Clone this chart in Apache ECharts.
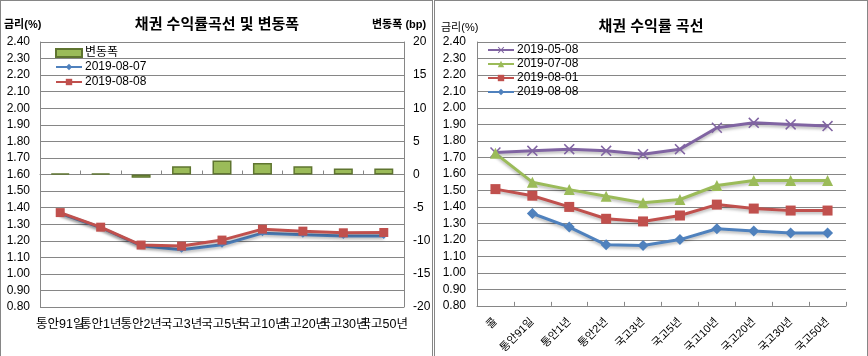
<!DOCTYPE html>
<html><head><meta charset="utf-8">
<script src="https://cdn.jsdelivr.net/npm/echarts@6/dist/echarts.min.js"></script>
<style>
html,body{margin:0;padding:0;background:#fff;width:868px;height:356px;overflow:hidden;}
#b1,#b2{position:absolute;top:0;height:380px;border:1px solid #868686;box-sizing:border-box;}
#b1{left:0;width:433px;}
#b2{left:434px;width:434px;}
#c1,#c2{position:absolute;top:0;height:356px;width:434px;}
#c1{left:0}#c2{left:434px}
</style></head><body>
<div id="b1"></div><div id="b2"></div><div id="c1"></div><div id="c2"></div>
<script>
// ---- data ----
const leftCategories = ['통안91일','통안1년','통안2년','국고3년','국고5년','국고10년','국고20년','국고30년','국고50년'];
const leftChangeBp   = [0, 0, -0.5, 1.25, 2.1, 1.75, 1.25, 0.9, 0.9];
const left20190807   = [1.365, 1.28, 1.17, 1.146, 1.176, 1.246, 1.236, 1.228, 1.228];
const left20190808   = [1.37, 1.282, 1.174, 1.168, 1.204, 1.27, 1.258, 1.248, 1.25];

const rightCategories = ['콜','통안91일','통안1년','통안2년','국고3년','국고5년','국고10년','국고20년','국고30년','국고50년'];
const right20190508 = [1.73, 1.74, 1.75, 1.74, 1.72, 1.75, 1.88, 1.91, 1.90, 1.89];
const right20190708 = [1.725, 1.55, 1.505, 1.465, 1.425, 1.445, 1.53, 1.56, 1.56, 1.56];
const right20190801 = [1.508, 1.468, 1.40, 1.328, 1.312, 1.348, 1.414, 1.39, 1.378, 1.378];
const right20190808 = [null, 1.36, 1.278, 1.17, 1.166, 1.202, 1.268, 1.254, 1.242, 1.242];

const rateAxis = {min: 0.8, max: 2.4, interval: 0.1};
const bpAxis = {min: -20, max: 20, interval: 5};

// ---- style ----
const FONT = '"Liberation Sans", Arial, "Noto Sans CJK KR", sans-serif';
const GRID = '#868686';
const shadow = {shadowColor:'rgba(0,0,0,0.28)', shadowBlur:3, shadowOffsetY:2};
const xPath = 'path://M0,1L1,0L5,4L9,0L10,1L6,5L10,9L9,10L5,6L1,10L0,9L4,5Z';

function rateYAxis(margin){
  return {type:'value', min:rateAxis.min, max:rateAxis.max, interval:rateAxis.interval,
    axisLine:{show:true, lineStyle:{color:GRID}}, axisTick:{show:false},
    splitLine:{show:true, lineStyle:{color:GRID, width:1}},
    axisLabel:{color:'#000', fontSize:12, fontFamily:FONT, margin:margin, formatter:v=>v.toFixed(2)}};
}
function legendItem(name, left, top, icon){
  const d = icon ? {name:name, icon:icon} : {name:name};
  return {data:[d], left:left, top:top, orient:'vertical', itemWidth:26, itemHeight:8,
    itemGap:0, padding:0, selectedMode:false,
    textStyle:{color:'#000', fontSize:12, fontFamily:FONT, padding:[0,0,0,-2]}};
}

// ---- left chart ----
const c1 = echarts.init(document.getElementById('c1'), null, {renderer:'canvas'});
c1.setOption({
  animation:false,
  textStyle:{fontFamily:FONT},
  title:{text:'채권 수익률곡선 및 변동폭', left:'center', top:12,
    textStyle:{fontSize:15, fontWeight:'bold', color:'#000', fontFamily:FONT}},
  graphic:[
    {type:'text', left:4, top:19, style:{text:'금리(%)', fill:'#000', font:'bold 11px '+FONT}},
    {type:'text', left:372, top:19, style:{text:'변동폭 (bp)', fill:'#000', font:'bold 11px '+FONT}}
  ],
  legend:[
    legendItem('변동폭', 55, 47, 'rect'),
    legendItem('2019-08-07', 55, 61),
    legendItem('2019-08-08', 55, 76)
  ],
  grid:{left:40, top:42, width:364, height:265},
  xAxis:{type:'category', data:leftCategories, boundaryGap:true,
    axisLine:{show:true, lineStyle:{color:GRID}},
    axisTick:{show:true, inside:true, length:4, lineStyle:{color:GRID}},
    axisLabel:{color:'#000', fontSize:12.5, fontFamily:FONT, interval:0, margin:11}},
  yAxis:[rateYAxis(10),
    {type:'value', position:'right', min:bpAxis.min, max:bpAxis.max, interval:bpAxis.interval,
     axisLine:{show:true, lineStyle:{color:GRID}}, axisTick:{show:false}, splitLine:{show:false},
     axisLabel:{color:'#000', fontSize:12, fontFamily:FONT, margin:9}}],
  series:[
    {name:'변동폭', type:'bar', yAxisIndex:1, data:leftChangeBp, barWidth:19, barMinHeight:1,
     itemStyle:{color:'#9bbb59', borderColor:'#5f7530', borderWidth:1.5}},
    {name:'2019-08-07', type:'line', data:left20190807, symbol:'diamond', symbolSize:6,
     itemStyle:{color:'#4f81bd'}, lineStyle:Object.assign({width:3, color:'#4f81bd'}, shadow)},
    {name:'2019-08-08', type:'line', data:left20190808, symbol:'rect', symbolSize:9,
     itemStyle:{color:'#c0504d'}, lineStyle:Object.assign({width:3, color:'#c0504d'}, shadow)}
  ]
});

// ---- right chart ----
const c2 = echarts.init(document.getElementById('c2'), null, {renderer:'canvas'});
c2.setOption({
  animation:false,
  textStyle:{fontFamily:FONT},
  title:{text:'채권 수익률 곡선', left:'center', top:14,
    textStyle:{fontSize:15, fontWeight:'bold', color:'#000', fontFamily:FONT}},
  graphic:[
    {type:'text', left:7, top:22, style:{text:'금리(%)', fill:'#000', font:'11px '+FONT}}
  ],
  legend:[
    legendItem('2019-05-08', 53, 44),
    legendItem('2019-07-08', 53, 58),
    legendItem('2019-08-01', 53, 72),
    legendItem('2019-08-08', 53, 86)
  ],
  grid:{left:43, top:42, width:369, height:265},
  xAxis:{type:'category', data:rightCategories, boundaryGap:true,
    axisLine:{show:true, lineStyle:{color:GRID}},
    axisTick:{show:true, inside:true, length:4, lineStyle:{color:GRID}},
    axisLabel:{color:'#000', fontSize:11, fontFamily:FONT, interval:0, rotate:45, margin:14}},
  yAxis:rateYAxis(11),
  series:[
    {name:'2019-05-08', type:'line', data:right20190508, symbol:xPath, symbolSize:11,
     itemStyle:{color:'#8064a2'}, lineStyle:Object.assign({width:3, color:'#8064a2'}, shadow)},
    {name:'2019-07-08', type:'line', data:right20190708, symbol:'triangle', symbolSize:11,
     itemStyle:{color:'#9bbb59'}, lineStyle:Object.assign({width:3, color:'#9bbb59'}, shadow)},
    {name:'2019-08-01', type:'line', data:right20190801, symbol:'rect', symbolSize:10,
     itemStyle:{color:'#c0504d'}, lineStyle:Object.assign({width:3, color:'#c0504d'}, shadow)},
    {name:'2019-08-08', type:'line', data:right20190808, symbol:'diamond', symbolSize:11,
     itemStyle:{color:'#4f81bd'}, lineStyle:Object.assign({width:3, color:'#4f81bd'}, shadow)}
  ]
});
</script>
</body></html>
